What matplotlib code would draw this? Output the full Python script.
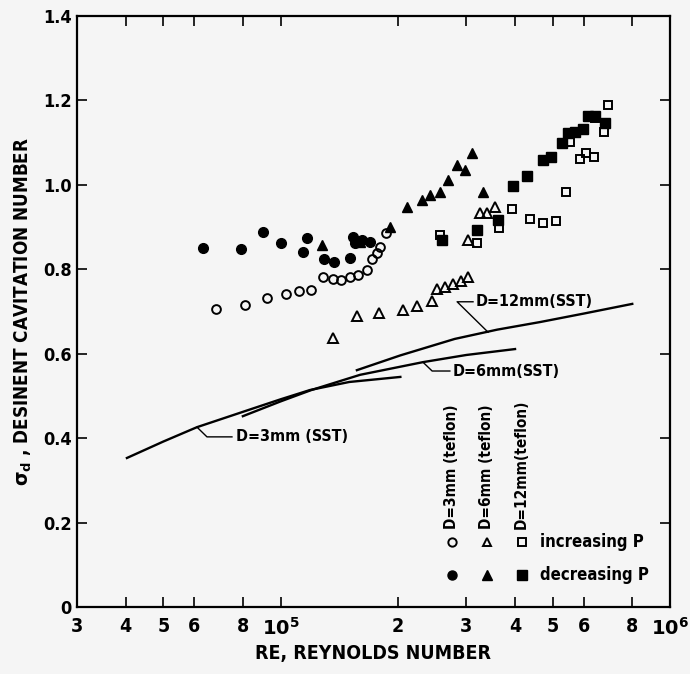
import numpy as np
import matplotlib.pyplot as plt

# D=3mm teflon
re_c_inc = [6.82e4, 8.1e4, 9.23e4, 1.03e5, 1.115e5, 1.2e5, 1.285e5, 1.364e5, 1.43e5,
            1.507e5, 1.58e5, 1.667e5, 1.717e5, 1.768e5, 1.8e5, 1.865e5]
sig_c_inc = [0.706, 0.715, 0.732, 0.742, 0.749, 0.751, 0.782, 0.777, 0.775,
             0.782, 0.787, 0.798, 0.824, 0.839, 0.853, 0.886]
re_c_dec = [6.32e4, 7.91e4, 9.01e4, 1.0e5, 1.141e5, 1.169e5, 1.292e5, 1.371e5,
            1.507e5, 1.534e5, 1.55e5, 1.62e5, 1.70e5]
sig_c_dec = [0.851, 0.848, 0.888, 0.862, 0.841, 0.874, 0.824, 0.817,
             0.827, 0.877, 0.862, 0.869, 0.865]

# D=6mm teflon
re_t_inc = [1.363e5, 1.571e5, 1.79e5, 2.06e5, 2.24e5, 2.45e5, 2.52e5, 2.64e5, 2.77e5,
            2.90e5, 3.03e5, 3.03e5, 3.25e5, 3.39e5, 3.55e5]
sig_t_inc = [0.637, 0.689, 0.697, 0.704, 0.713, 0.725, 0.753, 0.758, 0.765,
             0.772, 0.782, 0.869, 0.933, 0.933, 0.948]
re_t_dec = [1.277e5, 1.6e5, 1.91e5, 2.11e5, 2.31e5, 2.42e5, 2.57e5, 2.69e5, 2.84e5,
            2.98e5, 3.10e5, 3.31e5]
sig_t_dec = [0.858, 0.865, 0.900, 0.948, 0.964, 0.976, 0.983, 1.012, 1.047,
             1.035, 1.076, 0.983]

# D=12mm teflon
re_s_inc = [2.57e5, 3.2e5, 3.64e5, 3.93e5, 4.37e5, 4.72e5, 5.09e5, 5.41e5, 5.54e5,
            5.87e5, 6.08e5, 6.38e5, 6.42e5, 6.77e5, 6.93e5]
sig_s_inc = [0.881, 0.862, 0.898, 0.943, 0.919, 0.910, 0.914, 0.983, 1.102,
             1.061, 1.076, 1.066, 1.158, 1.125, 1.189]
re_s_dec = [2.6e5, 3.2e5, 3.62e5, 3.95e5, 4.29e5, 4.72e5, 4.95e5, 5.28e5, 5.47e5,
            5.7e5, 5.98e5, 6.15e5, 6.42e5, 6.81e5]
sig_s_dec = [0.869, 0.893, 0.917, 0.997, 1.021, 1.059, 1.066, 1.099, 1.123,
             1.125, 1.132, 1.163, 1.163, 1.147]

# SST curves
re_sst3 = [4.03e4, 5e4, 6.1e4, 8.35e4, 1.0e5, 1.19e5, 1.5e5, 2.03e5]
sig_sst3 = [0.353, 0.392, 0.426, 0.468, 0.492, 0.514, 0.533, 0.545]
re_sst6 = [8.0e4, 1.0e5, 1.2e5, 1.6e5, 2.32e5, 3.0e5, 4.0e5]
sig_sst6 = [0.452, 0.487, 0.514, 0.550, 0.580, 0.597, 0.611]
re_sst12 = [1.57e5, 2.03e5, 2.8e5, 3.6e5, 4.64e5, 6.0e5, 8.0e5]
sig_sst12 = [0.561, 0.596, 0.635, 0.657, 0.675, 0.695, 0.718]

xticks = [3e4, 4e4, 5e4, 6e4, 8e4, 1e5, 2e5, 3e5, 4e5, 5e5, 6e5, 8e5, 1e6]
xticklabels = ['3', '4', '5', '6', '8', '$\\mathbf{10^5}$', '2', '3', '4', '5', '6', '8',
               '$\\mathbf{10^6}$']
yticks = [0, 0.2, 0.4, 0.6, 0.8, 1.0, 1.2, 1.4]
yticklabels = ['0', '0.2', '0.4', '0.6', '0.8', '1.0', '1.2', '1.4']

bg = '#f5f5f5'
fnt = dict(family='DejaVu Sans', stretch='condensed', weight='bold')

fig = plt.figure(figsize=(6.9, 6.74), dpi=100, facecolor=bg)
ax = fig.add_axes([0.1116, 0.0994, 0.8594, 0.8769], facecolor=bg)
ax.set_xscale('log')
ax.set_xlim(3e4, 1e6)
ax.set_ylim(0, 1.4)

k = dict(color='k', linestyle='none')
ax.plot(re_c_inc, sig_c_inc, marker='o', ms=6.3, mfc='none', mew=1.4, **k)
ax.plot(re_c_dec, sig_c_dec, marker='o', ms=7, mfc='k', **k)
ax.plot(re_t_inc, sig_t_inc, marker='^', ms=7, mfc='none', mew=1.4, **k)
ax.plot(re_t_dec, sig_t_dec, marker='^', ms=7.5, mfc='k', **k)
ax.plot(re_s_inc, sig_s_inc, marker='s', ms=6.3, mfc='none', mew=1.4, **k)
ax.plot(re_s_dec, sig_s_dec, marker='s', ms=6.5, mfc='k', **k)

for xs, ys in [(re_sst3, sig_sst3), (re_sst6, sig_sst6), (re_sst12, sig_sst12)]:
    ax.plot(xs, ys, color='k', lw=1.7)

# labels with leaders
ax.plot([6.1e4, 6.47e4, 7.5e4], [0.426, 0.403, 0.403], color='k', lw=1)
ax.text(7.7e4, 0.403, 'D=3mm (SST)', va='center', ha='left', fontsize=11.5, **fnt)
ax.plot([2.32e5, 2.45e5, 2.72e5], [0.580, 0.559, 0.559], color='k', lw=1)
ax.text(2.77e5, 0.559, 'D=6mm(SST)', va='center', ha='left', fontsize=11.5, **fnt)
ax.plot([3.41e5, 2.84e5, 3.12e5], [0.651, 0.723, 0.723], color='k', lw=1)
ax.text(3.16e5, 0.723, 'D=12mm(SST)', va='center', ha='left', fontsize=11.5, **fnt)

# legend block
lx = [0.632, 0.691, 0.750]
names = ['D=3mm (teflon)', 'D=6mm (teflon)', 'D=12mm(teflon)']
for x, m, nm in zip(lx, ['o', '^', 's'], names):
    ax.plot([x], [0.110], marker=m, ms=6, mfc='none', mew=1.4, color='k',
            transform=ax.transAxes, clip_on=False)
    ax.plot([x], [0.054], marker=m, ms=6.5, mfc='k', color='k',
            transform=ax.transAxes, clip_on=False)
    ax.text(x, 0.132, nm, rotation=90, ha='center', va='bottom', fontsize=11,
            transform=ax.transAxes, **fnt)
ax.text(0.781, 0.110, 'increasing P', va='center', ha='left', fontsize=12,
        transform=ax.transAxes, **fnt)
ax.text(0.781, 0.054, 'decreasing P', va='center', ha='left', fontsize=12,
        transform=ax.transAxes, **fnt)

ax.set_xticks(xticks)
ax.set_xticklabels(xticklabels)
ax.minorticks_off()
ax.set_yticks(yticks)
ax.set_yticklabels(yticklabels)
ax.tick_params(direction='in', top=True, right=True, length=7, width=1.2, pad=7)
ax.tick_params(axis='y', pad=4)
for lab in ax.get_xticklabels() + ax.get_yticklabels():
    lab.set_fontsize(14)
    lab.set_fontweight('bold')
    lab.set_fontstretch('condensed')
for lab in ax.get_yticklabels():
    lab.set_fontsize(13)
for s in ax.spines.values():
    s.set_linewidth(1.6)

ax.set_xlabel('RE, REYNOLDS NUMBER', fontsize=14, labelpad=4, **fnt)
ax.set_ylabel('$\\mathbf{\\sigma_d}$ , DESINENT CAVITATION NUMBER', fontsize=13.5,
              labelpad=6, **fnt)

fig.savefig('out.png', dpi=100, facecolor=bg)
